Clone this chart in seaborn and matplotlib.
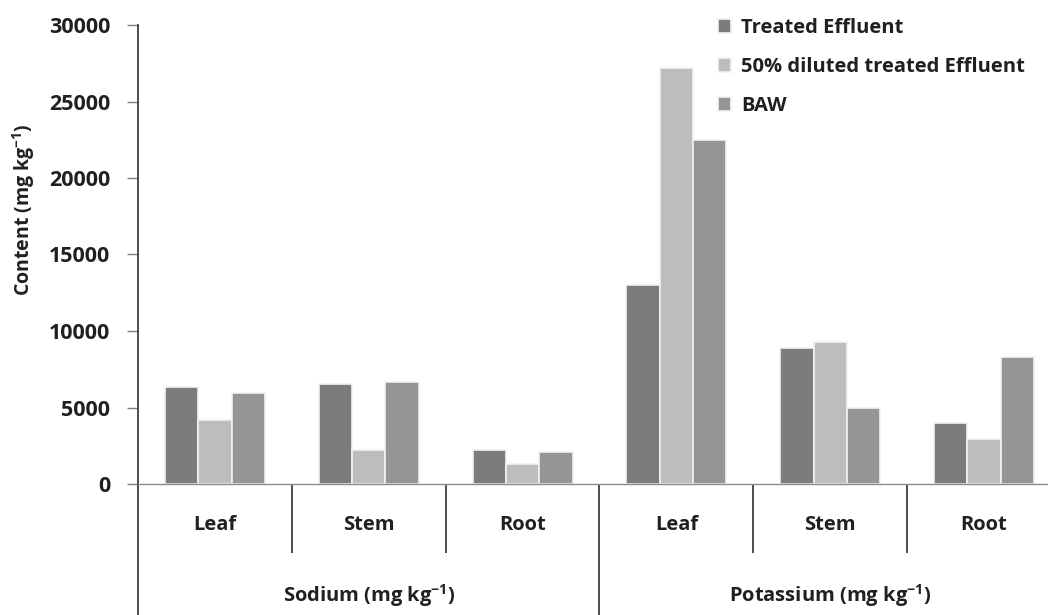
import numpy as np
import pandas as pd
import matplotlib
matplotlib.use("Agg")
import matplotlib.pyplot as plt
import seaborn as sns

# ---- data -------------------------------------------------------------
elements = ["Sodium (mg kg$^{-1}$)", "Potassium (mg kg$^{-1}$)"]
parts = ["Leaf", "Stem", "Root"]
treatments = ["Treated Effluent", "50% diluted treated Effluent", "BAW"]

treated_effluent = [6320, 6560, 2220, 13010, 8910, 3960]
diluted_effluent = [4200, 2220, 1330, 27190, 9280, 2960]
baw = [5930, 6690, 2090, 22480, 4950, 8280]

y_ticks = [0, 5000, 10000, 15000, 20000, 25000, 30000]

colors = ["#7b7c80", "#bcbdc1", "#949599"]

# ---- long-form table --------------------------------------------------
groups = [f"{e.split(' ')[0]} {p}" for e in elements for p in parts]
rows = []
for name, vals in zip(treatments, [treated_effluent, diluted_effluent, baw]):
    for g, v in zip(groups, vals):
        rows.append({"group": g, "treatment": name, "value": v})
df = pd.DataFrame(rows)

# ---- style ------------------------------------------------------------
sns.set_style("white")
plt.rcParams["font.family"] = ["Open Sans", "DejaVu Sans"]
plt.rcParams["font.weight"] = "bold"
plt.rcParams["mathtext.default"] = "regular"
text_color = "#231f20"
fs = 14.5

fig = plt.figure(figsize=(10.48, 6.15), dpi=100)
W, H = 1048, 615
left, right, top, bottom = 138, 1061, 25, 484
ax = fig.add_axes([left / W, 1 - bottom / H, (right - left) / W, (bottom - top) / H])

sns.barplot(
    data=df, x="group", y="value", hue="treatment",
    order=groups, hue_order=treatments,
    palette=dict(zip(treatments, colors)),
    width=0.65, edgecolor="#f2f2f2", linewidth=1.2,
    errorbar=None, ax=ax,
)

ax.set_xlim(-0.5, len(groups) - 0.5)
ax.set_ylim(0, 30000)
ax.set_yticks(y_ticks)
ax.set_yticklabels([str(t) for t in y_ticks], fontsize=15.5, fontweight="bold", color=text_color)
ax.tick_params(axis="y", length=8, width=1, color="#7f7f7f", pad=12, left=True)
ax.set_xticks([])
ax.set_xlabel("")
ax.set_ylabel("")

for s in ["top", "right"]:
    ax.spines[s].set_visible(False)
ax.spines["bottom"].set_color("#8a8a8a")
ax.spines["bottom"].set_linewidth(1.0)
ax.spines["left"].set_color("#3f3f3f")
ax.spines["left"].set_linewidth(1.3)

# category separators below the axis
trans = ax.get_xaxis_transform()
axh = bottom - top
minor_end = -(553 - bottom) / axh
major_end = -(H - bottom) / axh
for i in range(1, len(groups)):
    end = major_end if i % 3 == 0 else minor_end
    ax.plot([i - 0.5, i - 0.5], [0, end], transform=trans, color="#3f3f3f",
            lw=1.3, clip_on=False, solid_capstyle="butt")
ax.plot([-0.5, -0.5], [0, major_end], transform=trans, color="#3f3f3f",
        lw=1.3, clip_on=False, solid_capstyle="butt")

# category labels
part_y = -(525 - bottom) / axh
elem_y = -(596 - bottom) / axh
for i, g in enumerate(groups):
    ax.text(i, part_y, parts[i % 3], transform=trans, ha="center", va="center",
            fontsize=fs, fontweight="bold", color=text_color)
for j, e in enumerate(elements):
    ax.text(3 * j + 1, elem_y, e, transform=trans, ha="center", va="center",
            fontsize=fs, fontweight="bold", color=text_color)

# y-axis title
fig.text(24 / W, 1 - 210 / H, "Content (mg kg$^{-1}$)", rotation=90,
         ha="center", va="center", fontsize=14, fontweight="bold", color=text_color)

# legend
handles, labels = ax.get_legend_handles_labels()
ax.legend(handles, labels, loc="upper left",
          bbox_to_anchor=(718 / W, 1 - 18 / H), bbox_transform=fig.transFigure,
          frameon=False, handlelength=0.65, handleheight=0.65, handletextpad=0.5,
          labelspacing=0.95, borderpad=0, borderaxespad=0,
          prop={"size": fs, "weight": "bold"}, labelcolor=text_color)

fig.savefig("out.png", dpi=100)
